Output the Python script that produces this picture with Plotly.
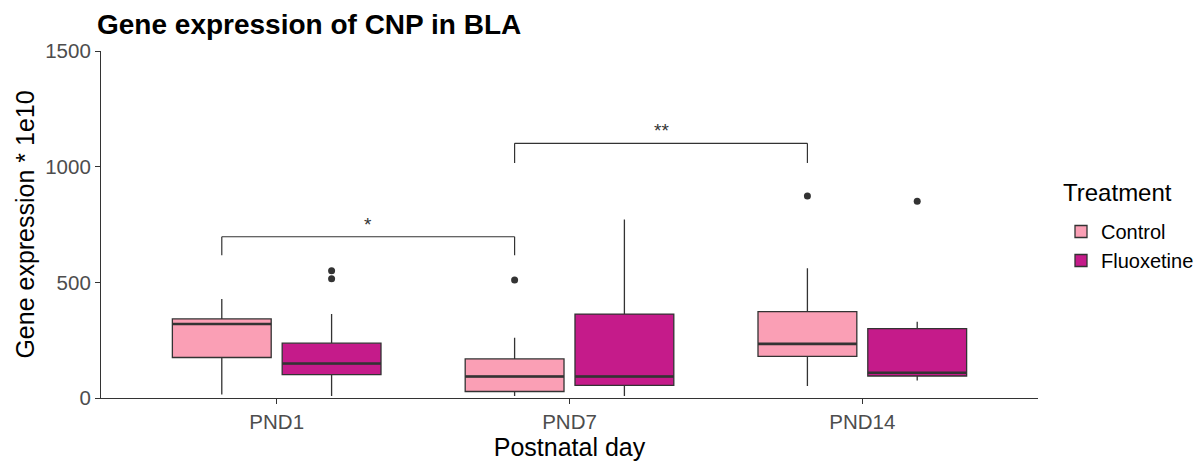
import plotly.graph_objects as go

# ---------------- data ----------------
days = ["PND1", "PND7", "PND14"]
treatments = ["Control", "Fluoxetine"]

ctrl_lower = [15, 9, 52]
ctrl_q1 = [175, 28, 180]
ctrl_median = [320, 93, 234]
ctrl_q3 = [342, 169, 373]
ctrl_upper = [428, 260, 561]

fluox_lower = [9, 9, 76]
fluox_q1 = [101, 55, 95]
fluox_median = [149, 93, 109]
fluox_q3 = [237, 363, 300]
fluox_upper = [363, 772, 330]

ctrl_out_day = ["PND7", "PND14"]
ctrl_out_val = [510, 873]
fluox_out_day = ["PND1", "PND1", "PND14"]
fluox_out_val = [550, 515, 850]

# significance brackets between Control boxes
sig_from = ["PND1", "PND7"]
sig_to = ["PND7", "PND14"]
sig_label = ["*", "**"]
sig_top = [697, 1101]
sig_leg = [617, 1016]

y_ticks = [0, 500, 1000, 1500]

# ---------------- style ----------------
colors = {"Control": "#FA9FB5", "Fluoxetine": "#C51B8A"}
dark = "#333333"
FONT = "Liberation Sans, Arial, sans-serif"
BOXGAP = 0.25
BOXGROUPGAP = 0.1

stats = {
    "Control": (ctrl_lower, ctrl_q1, ctrl_median, ctrl_q3, ctrl_upper),
    "Fluoxetine": (fluox_lower, fluox_q1, fluox_median, fluox_q3, fluox_upper),
}
outs = {
    "Control": (ctrl_out_day, ctrl_out_val),
    "Fluoxetine": (fluox_out_day, fluox_out_val),
}

fig = go.Figure()
for t in treatments:
    lo, q1, med, q3, up = stats[t]
    fig.add_trace(go.Box(
        name=t, x=days, q1=q1, median=med, q3=q3,
        lowerfence=lo, upperfence=up,
        offsetgroup=t, legendgroup=t,
        fillcolor=colors[t], line=dict(color=dark, width=1.3),
        whiskerwidth=0, boxpoints=False, hoverinfo="skip",
    ))
    # thicker median line (ggplot fatten)
    fig.add_trace(go.Box(
        name=t, x=days, q1=med, median=med, q3=med,
        lowerfence=med, upperfence=med,
        offsetgroup=t, legendgroup=t, showlegend=False,
        fillcolor="rgba(0,0,0,0)", line=dict(color=dark, width=2.6),
        whiskerwidth=0, boxpoints=False, hoverinfo="skip",
    ))
    # outliers
    od, ov = outs[t]
    fig.add_trace(go.Box(
        name=t, x=od, y=ov,
        offsetgroup=t, legendgroup=t, showlegend=False,
        fillcolor="rgba(0,0,0,0)", line=dict(color="rgba(0,0,0,0)", width=0),
        whiskerwidth=0, boxpoints="all", jitter=0, pointpos=0,
        marker=dict(color=dark, size=7), hoverinfo="skip",
    ))

# brackets drawn on the category axis (numeric index positions)
ctrl_offset = -(1 - BOXGAP) / 4
for a, b, lab, top, leg in zip(sig_from, sig_to, sig_label, sig_top, sig_leg):
    xa = days.index(a) + ctrl_offset
    xb = days.index(b) + ctrl_offset
    for (x0, y0, x1, y1) in [(xa, leg, xa, top), (xa, top, xb, top), (xb, top, xb, leg)]:
        fig.add_shape(type="line", xref="x", yref="y", x0=x0, y0=y0, x1=x1, y1=y1,
                      line=dict(color=dark, width=1.2))
    fig.add_annotation(x=(xa + xb) / 2, y=top, xref="x", yref="y", text=lab,
                       showarrow=False, yanchor="bottom", yshift=0,
                       font=dict(family=FONT, size=19, color=dark))

# legend title as a separate text (to match the ggplot spacing)
fig.add_annotation(text="Treatment", xref="paper", yref="paper",
                   x=1.0245, y=0.591, xanchor="left", yanchor="middle",
                   showarrow=False, font=dict(family=FONT, size=24, color="black"))

fig.update_layout(
    width=1203, height=462,
    margin=dict(l=101, r=165, t=51, b=64),
    paper_bgcolor="white", plot_bgcolor="white",
    boxmode="group", boxgap=BOXGAP, boxgroupgap=BOXGROUPGAP,
    font=dict(family=FONT, color="black"),
    title=dict(text="<b>Gene expression of CNP in BLA</b>",
               x=97 / 1203, xref="container", xanchor="left",
               y=1 - 24 / 462, yref="container", yanchor="middle",
               font=dict(family=FONT, size=28, color="black")),
    legend=dict(
        font=dict(family=FONT, size=20, color="black"),
        xref="container", yref="container",
        x=1061 / 1203, xanchor="left", y=1 - 212 / 462, yanchor="top",
        bgcolor="rgba(0,0,0,0)", tracegroupgap=0,
    ),
    xaxis=dict(
        type="category", categoryorder="array", categoryarray=days,
        range=[-0.6, 2.6], automargin=False,
        showline=True, linecolor=dark, linewidth=1.2,
        ticks="outside", ticklen=5, tickcolor=dark, tickwidth=1.2,
        tickfont=dict(family=FONT, size=20.5, color="#4D4D4D"),
        showgrid=False, zeroline=False,
        title=dict(text="Postnatal day", font=dict(family=FONT, size=25, color="black"), standoff=2),
    ),
    yaxis=dict(
        range=[0, 1500], tickvals=y_ticks, automargin=False,
        showline=True, linecolor=dark, linewidth=1.2,
        ticks="outside", ticklen=5, tickcolor=dark, tickwidth=1.2,
        tickfont=dict(family=FONT, size=20.5, color="#4D4D4D"),
        showgrid=False, zeroline=False,
        title=dict(text="Gene expression * 1e10", font=dict(family=FONT, size=25, color="black"), standoff=3),
    ),
)

fig.write_html("out.html", config={"displayModeBar": False},
               post_script="document.body.style.margin='0px';document.body.style.overflow='hidden';")
